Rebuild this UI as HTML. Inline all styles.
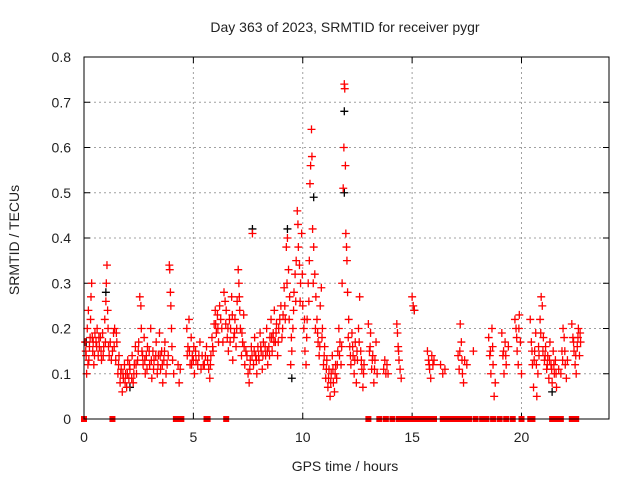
<!DOCTYPE html>
<html><head><meta charset="utf-8"><style>
body{margin:0;background:#fff}
svg{display:block;font-family:"Liberation Sans",sans-serif}
</style></head><body>
<svg id="chart" width="640" height="480" viewBox="0 0 640 480" xmlns="http://www.w3.org/2000/svg">
<rect width="640" height="480" fill="#fff"/>
<text x="345" y="32" font-size="14" text-anchor="middle" fill="#222">Day 363 of 2023, SRMTID for receiver pygr</text>
<text transform="translate(19,240) rotate(-90)" font-size="14" text-anchor="middle" fill="#222">SRMTID / TECUs</text>
<text x="345" y="471" font-size="14" text-anchor="middle" fill="#222">GPS time / hours</text>
<g id="grid"></g>
<g id="ticks"></g>
<g id="marks"></g>
<rect x="84" y="57" width="525" height="362" fill="none" stroke="#000" stroke-width="1"/>
</svg>
<script>
const xTicks=[0,5,10,15,20];
const yTicks=[0,0.1,0.2,0.3,0.4,0.5,0.6,0.7,0.8];
const yTickLabels=["0","0.1","0.2","0.3","0.4","0.5","0.6","0.7","0.8"];
const blackPoints=[[0.1,0.17],[1.0,0.28],[2.1,0.07],[7.7,0.42],[9.3,0.42],[9.5,0.09],[10.5,0.49],[11.9,0.5],[11.9,0.68],[15.1,0.24],[21.4,0.06]];
const redPoints=[
[0.05,0.17],[0.1,0.14],[0.12,0.1],[0.15,0.2],[0.2,0.24],[0.22,0.13],[0.25,0.16],[0.3,0.22],[0.32,0.27],[0.35,0.3],[0.38,0.18],[0.4,0.15],[0.45,0.12],[0.5,0.19],[0.55,0.17],[0.6,0.2],[0.65,0.14],[0.7,0.16],[0.75,0.18],[0.8,0.13],[0.85,0.19],[0.9,0.16],[0.95,0.22],[1.0,0.26],[1.02,0.3],[1.05,0.34],[1.08,0.24],[1.1,0.2],[1.15,0.14],[1.2,0.17],[1.3,0.15],[1.35,0.19],[1.4,0.2],[1.45,0.13],[1.5,0.17],[1.55,0.1],[1.6,0.14],[1.65,0.08],[1.7,0.11],[1.75,0.06],[1.8,0.09],[1.85,0.12],[1.9,0.1],[1.95,0.07],[2.0,0.13],[2.05,0.09],[2.1,0.11],[2.2,0.14],[2.25,0.08],[2.3,0.12],[2.35,0.16],[2.4,0.1],[2.45,0.13],[2.5,0.17],[2.55,0.27],[2.6,0.25],[2.62,0.2],[2.65,0.15],[2.7,0.12],[2.75,0.18],[2.8,0.1],[2.85,0.14],[2.9,0.16],[3.0,0.12],[3.05,0.2],[3.1,0.09],[3.15,0.15],[3.2,0.13],[3.3,0.17],[3.35,0.1],[3.4,0.14],[3.45,0.19],[3.5,0.11],[3.55,0.15],[3.6,0.08],[3.65,0.13],[3.7,0.17],[3.8,0.12],[3.9,0.34],[3.92,0.33],[3.95,0.28],[3.97,0.25],[4.0,0.2],[4.02,0.16],[4.05,0.13],[4.1,0.1],[4.3,0.12],[4.35,0.08],[4.4,0.11],
[4.7,0.2],[4.75,0.16],[4.8,0.22],[4.85,0.12],[4.9,0.18],[4.95,0.14],[5.0,0.13],[5.05,0.1],[5.1,0.15],[5.2,0.12],[5.3,0.17],[5.35,0.11],[5.4,0.14],[5.5,0.12],[5.6,0.16],[5.7,0.11],[5.75,0.09],[5.8,0.14],[5.85,0.18],[5.9,0.15],[5.95,0.21],[6.0,0.24],[6.05,0.19],[6.1,0.23],[6.15,0.17],[6.2,0.25],[6.3,0.2],[6.4,0.28],[6.45,0.26],[6.5,0.24],[6.55,0.18],[6.6,0.15],[6.65,0.22],[6.7,0.2],[6.75,0.27],[6.8,0.13],[6.85,0.18],[6.9,0.22],[6.95,0.16],[7.0,0.26],[7.05,0.33],[7.08,0.3],[7.1,0.27],[7.15,0.2],[7.2,0.14],[7.25,0.17],[7.3,0.23],[7.35,0.12],[7.4,0.15],[7.5,0.1],[7.55,0.08],[7.6,0.13],[7.65,0.16],[7.7,0.41],[7.75,0.12],[7.8,0.18],[7.85,0.14],[7.9,0.1],[7.95,0.16],[8.0,0.13],[8.05,0.19],[8.1,0.15],[8.15,0.11],[8.2,0.17],[8.3,0.14],[8.35,0.2],[8.4,0.12],[8.45,0.16],[8.5,0.18],[8.55,0.22],[8.6,0.15],[8.65,0.19],[8.7,0.24],[8.75,0.17],[8.8,0.21],[8.85,0.14],[8.9,0.2],[9.0,0.25],[9.05,0.18],[9.1,0.23],[9.15,0.29],[9.2,0.22],[9.25,0.38],[9.3,0.4],[9.35,0.33],[9.4,0.27],[9.45,0.12],[9.5,0.15],[9.55,0.2],[9.6,0.28],[9.65,0.32],[9.7,0.35],[9.75,0.46],[9.78,0.43],[9.8,0.38],[9.85,0.34],[9.9,0.3],[9.95,0.41],[10.0,0.25],[10.05,0.2],[10.1,0.15],[10.15,0.12],[10.2,0.22],[10.25,0.3],[10.3,0.35],[10.33,0.52],[10.36,0.56],[10.4,0.64],[10.42,0.58],[10.45,0.42],[10.5,0.38],[10.55,0.32],[10.6,0.27],[10.65,0.22],[10.7,0.17],[10.75,0.14],[10.8,0.25],[10.85,0.29],[10.9,0.2],[10.95,0.12],[11.0,0.16],[11.05,0.09],[11.1,0.13],[11.15,0.07],[11.2,0.11],[11.25,0.05],[11.3,0.1],[11.35,0.14],[11.4,0.08],[11.45,0.06],[11.5,0.12],[11.55,0.09],[11.6,0.15],[11.65,0.2],[11.7,0.17],[11.75,0.12],[11.8,0.3],[11.85,0.51],[11.88,0.6],[11.9,0.74],[11.92,0.73],[11.95,0.56],[11.97,0.41],[12.0,0.38],[12.02,0.35],[12.05,0.28],[12.1,0.22],[12.15,0.16],[12.2,0.12],[12.25,0.19],[12.3,0.14],[12.35,0.1],[12.4,0.17],[12.45,0.08],[12.5,0.13],[12.55,0.2],[12.6,0.27],[12.65,0.15],[12.7,0.11],[12.75,0.07],[12.8,0.12],
[13.0,0.21],[13.05,0.15],[13.1,0.19],[13.15,0.11],[13.2,0.14],[13.25,0.08],[13.3,0.13],[13.35,0.17],[13.4,0.1],[13.7,0.11],[13.75,0.13],[13.8,0.1],[13.85,0.12],[13.9,0.1],[14.3,0.21],[14.33,0.19],[14.36,0.16],[14.4,0.13],[14.45,0.11],[14.5,0.09],[15.0,0.27],[15.05,0.25],[15.1,0.24],[15.7,0.15],[15.75,0.13],[15.8,0.11],[15.85,0.09],[15.9,0.14],[15.95,0.12],[16.0,0.13],[16.3,0.12],[16.4,0.1],[16.5,0.11],[17.1,0.14],[17.15,0.11],[17.2,0.21],[17.25,0.17],[17.3,0.1],[17.35,0.08],[17.4,0.13],[17.5,0.12],[17.8,0.15],[18.5,0.18],[18.55,0.14],[18.6,0.1],[18.65,0.2],[18.7,0.12],[18.75,0.05],[18.8,0.08],[19.1,0.19],[19.15,0.14],[19.2,0.1],[19.25,0.17],[19.3,0.12],[19.4,0.16],[19.7,0.22],[19.75,0.2],[19.8,0.15],[19.85,0.12],[19.9,0.23],[19.95,0.17],[20.0,0.1],[20.4,0.22],[20.45,0.17],[20.5,0.12],[20.55,0.07],[20.6,0.15],[20.65,0.19],[20.7,0.05],[20.75,0.1],[20.8,0.14],[20.85,0.22],[20.9,0.27],[20.95,0.25],[21.0,0.18],[21.05,0.13],[21.1,0.16],[21.15,0.11],[21.2,0.14],[21.25,0.09],[21.3,0.17],[21.35,0.12],[21.4,0.08],[21.45,0.15],[21.5,0.1],[21.55,0.13],[21.6,0.07],[21.7,0.11],[21.8,0.1],[21.85,0.15],[21.9,0.2],[21.95,0.18],[22.0,0.12],[22.05,0.09],[22.1,0.13],[22.3,0.21],[22.35,0.18],[22.4,0.15],[22.45,0.12],[22.5,0.1],[22.55,0.16],[22.6,0.2],[22.65,0.14],[22.7,0.17]
];
const extraRedPoints=[
[0.08,0.15],[0.18,0.12],[0.28,0.18],[0.42,0.17],[0.48,0.14],[0.58,0.16],[0.68,0.18],[0.78,0.15],[0.88,0.14],[0.98,0.17],[1.12,0.16],[1.25,0.13],[1.38,0.16],[1.48,0.19],[1.58,0.12],[1.68,0.1],[1.78,0.1],[1.88,0.08],[1.98,0.1],[2.08,0.12],[2.18,0.09],[2.28,0.1],[2.38,0.12],[2.48,0.15],[2.68,0.14],[2.78,0.13],[2.88,0.11],[2.98,0.15],[3.08,0.13],[3.18,0.11],[3.28,0.14],[3.38,0.12],[3.48,0.14],[3.58,0.12],[3.68,0.15],[3.75,0.1],[3.85,0.14],
[4.72,0.14],[4.82,0.15],[4.92,0.12],[5.02,0.16],[5.12,0.13],[5.25,0.14],[5.45,0.12],[5.55,0.14],[5.65,0.13],[5.78,0.12],[5.88,0.16],[6.02,0.21],[6.12,0.2],[6.25,0.22],[6.35,0.17],[6.48,0.21],[6.58,0.2],[6.68,0.17],[6.78,0.23],[6.88,0.19],[6.98,0.2],[7.12,0.24],[7.22,0.19],[7.32,0.16],[7.45,0.14],[7.58,0.11],[7.68,0.14],[7.78,0.15],[7.88,0.13],[7.98,0.14],[8.08,0.16],[8.18,0.14],[8.28,0.16],[8.38,0.15],[8.48,0.14],[8.58,0.18],[8.68,0.17],[8.78,0.19],[8.88,0.17],[8.95,0.22],[9.08,0.2],[9.18,0.25],[9.28,0.3],[9.38,0.22],[9.48,0.18],[9.58,0.24],[9.68,0.26],[9.88,0.26],[9.98,0.32],[10.08,0.22],[10.18,0.18],[10.28,0.26],[10.48,0.3],[10.58,0.2],[10.68,0.19],[10.78,0.16],[10.88,0.18],[10.98,0.14],[11.08,0.11],[11.18,0.09],[11.28,0.08],[11.38,0.11],[11.48,0.1],[11.58,0.12],[11.68,0.14],[11.78,0.16],[12.08,0.18],[12.18,0.14],[12.28,0.16],[12.38,0.13],[12.48,0.15],[12.58,0.17],[12.68,0.13],[12.78,0.1],
[13.08,0.16],[13.18,0.13],[13.28,0.11],[14.38,0.15],[15.78,0.12],[17.18,0.15],[17.28,0.13],[18.58,0.15],[18.68,0.16],[19.18,0.15],[19.28,0.14],[19.78,0.18],[19.88,0.2],[20.48,0.15],[20.58,0.13],[20.68,0.12],[20.78,0.16],[20.88,0.19],[20.98,0.15],[21.08,0.14],[21.18,0.12],[21.28,0.13],[21.38,0.11],[21.48,0.12],[21.58,0.1],[21.88,0.13],[21.98,0.15],[22.38,0.17],[22.48,0.14],[22.58,0.18],[22.68,0.19]
];
const zeroHours=[0.0,1.3,4.2,4.45,5.6,5.65,6.5,13.0,13.5,13.8,14.1,14.4,14.6,14.8,15.0,15.1,15.25,15.4,15.5,15.6,15.75,15.9,16.0,16.4,16.5,16.7,16.9,17.1,17.2,17.3,17.45,17.6,17.9,18.2,18.4,18.7,19.0,19.3,19.6,20.0,20.4,20.5,21.4,21.6,21.8,22.3,22.5];

const NS="http://www.w3.org/2000/svg";
const X0=84,X1=609,Y0=419,Y1=57,XMAX=24,YMAX=0.8;
function xs(h){return X0+(X1-X0)*h/XMAX;}
function ys(v){return Y0-(Y0-Y1)*v/YMAX;}
const grid=document.getElementById('grid'),ticks=document.getElementById('ticks'),marks=document.getElementById('marks');
function mk(tag,attrs,parent){const e=document.createElementNS(NS,tag);for(const k in attrs)e.setAttribute(k,attrs[k]);parent.appendChild(e);return e;}
xTicks.forEach(t=>{
 const x=xs(t);
 if(t>0){const g=mk('line',{x1:x,x2:x,y1:Y0,y2:Y1,stroke:'#a0a0a0','stroke-dasharray':'2,3'},grid);
 
 }
 mk('line',{x1:x,x2:x,y1:Y0,y2:Y0-6,stroke:'#000'},ticks);
 mk('line',{x1:x,x2:x,y1:Y1,y2:Y1+6,stroke:'#000'},ticks);
 const l=mk('text',{x:x,y:Y0+23,'font-size':14,'text-anchor':'middle',fill:'#222'},ticks);
 
 
 l.textContent=String(t);
});
yTicks.forEach((t,i)=>{
 const y=ys(t);
 if(t>0&&t<0.8){const g=mk('line',{x1:X0,x2:X1,y1:y,y2:y,stroke:'#a0a0a0','stroke-dasharray':'2,3'},grid);
 
 }
 mk('line',{x1:X0,x2:X0+6,y1:y,y2:y,stroke:'#000'},ticks);
 mk('line',{x1:X1,x2:X1-6,y1:y,y2:y,stroke:'#000'},ticks);
 const l=mk('text',{x:X0-13,y:y+5,'font-size':14,'text-anchor':'end',fill:'#222'},ticks);
 
 
 l.textContent=yTickLabels[i];
});
function plus(h,v,color){
 const x=xs(h),y=ys(v);
 const p=mk('path',{d:`M${x-4},${y}h8M${x},${y-4}v8`,stroke:color,'stroke-width':1.3,fill:'none'},marks);
 
 
}
blackPoints.forEach(p=>plus(p[0],p[1],'#000'));
redPoints.forEach(p=>plus(p[0],p[1],'#ff0000'));
extraRedPoints.forEach(p=>plus(p[0],p[1],'#ff0000'));
zeroHours.forEach(h=>{
 const r=mk('rect',{x:xs(h)-3,y:Y0-3,width:6,height:6,fill:'#ff0000'},marks);
 
 
});
</script>
</body></html>
